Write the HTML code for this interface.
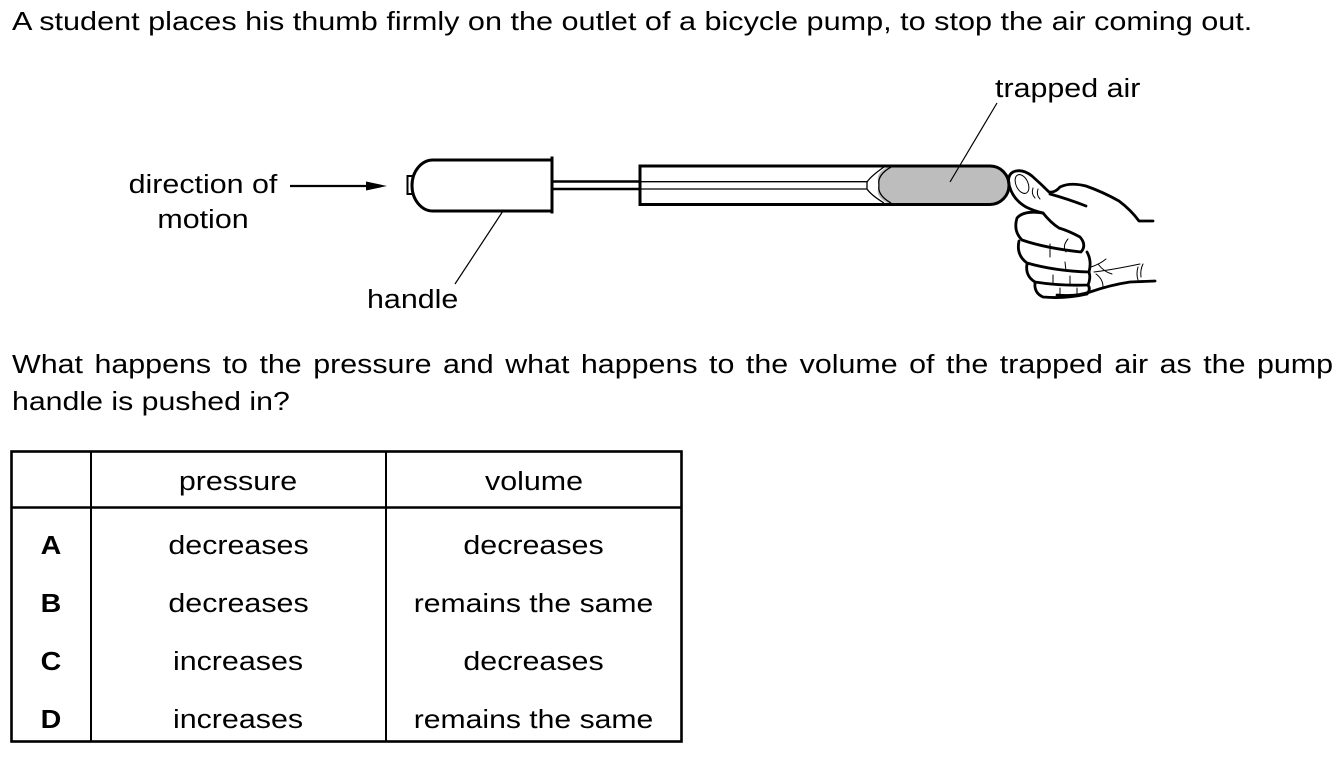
<!DOCTYPE html>
<html><head><meta charset="utf-8"><style>
html,body{margin:0;padding:0;background:#fff;}
svg{display:block;}
text{font-family:"Liberation Sans",Arial,sans-serif;font-size:26px;fill:#000;}
</style></head><body>
<svg width="1341" height="759" viewBox="0 0 1341 759" xmlns="http://www.w3.org/2000/svg">
<rect width="1341" height="759" fill="#fff"/>

<!-- Text -->
<text transform="translate(12,30) scale(1.178,1)">A student places his thumb firmly on the outlet of a bicycle pump, to stop the air coming out.</text>
<text transform="translate(995,97) scale(1.17,1)">trapped air</text>
<text transform="translate(203,193) scale(1.17,1)" text-anchor="middle">direction of</text>
<text transform="translate(203,228) scale(1.17,1)" text-anchor="middle">motion</text>
<text transform="translate(367,308) scale(1.17,1)">handle</text>
<text transform="translate(12,373) scale(1.17,1)" style="word-spacing:2.6px">What happens to the pressure and what happens to the volume of the trapped air as the pump</text>
<text transform="translate(12,410) scale(1.165,1)">handle is pushed in?</text>

<!-- direction arrow -->
<line x1="290" y1="186" x2="370" y2="186" stroke="#000" stroke-width="2.2"/>
<polygon points="366,181.5 387,186 366,190.5" fill="#000"/>

<!-- handle -->
<rect x="407.5" y="176" width="5" height="18" fill="none" stroke="#000" stroke-width="2"/>
<path d="M552,160 H433 A21 25.5 0 0 0 433,211 H552" fill="none" stroke="#000" stroke-width="3"/>
<line x1="552" y1="156.5" x2="552" y2="213.5" stroke="#000" stroke-width="3"/>
<line x1="552" y1="181.5" x2="640" y2="181.5" stroke="#000" stroke-width="2.6"/>
<line x1="552" y1="189" x2="640" y2="189" stroke="#000" stroke-width="2.6"/>
<line x1="503" y1="211" x2="455" y2="284" stroke="#000" stroke-width="1.2"/>

<!-- barrel -->
<path d="M887,167 Q873,175 880,185 Q873,195 887,203 L991,203 A18 18 0 0 0 991,167 Z" fill="#bdbdbd"/>
<path d="M640,166 H990 A19 19.25 0 0 1 990,204.5 H640 Z" fill="none" stroke="#000" stroke-width="3"/>
<line x1="640" y1="181.7" x2="867" y2="181.7" stroke="#000" stroke-width="1.3"/>
<line x1="640" y1="189" x2="867" y2="189" stroke="#000" stroke-width="1.3"/>
<path d="M884,167 Q871,176 867,182 L867,189 Q871,195 884,203" fill="none" stroke="#000" stroke-width="1.3"/>
<path d="M891,167 Q877,175 879,185 Q877,195 891,203" fill="none" stroke="#000" stroke-width="1.3"/>
<line x1="997" y1="103" x2="950" y2="182" stroke="#000" stroke-width="1.2"/>

<!-- hand -->
<g fill="none" stroke="#000" stroke-width="2.8" stroke-linejoin="round" stroke-linecap="round">
  <!-- thumb and back of hand -->
  <path d="M1010,188 Q1006,176 1013,172 Q1022,168 1032,176 Q1041,184 1049,192 Q1055,193 1060,187 Q1070,182 1086,186 Q1103,192 1119,201 Q1131,210 1139,221 L1153,221"/>
  <path d="M1010,188 Q1014,200 1026,207 Q1034,211 1043,213"/>
  <path d="M1050,194 Q1068,199 1086,206"/>
  <!-- index finger -->
  <path d="M1043,213 Q1024,210 1017,218 Q1013,231 1022,240 Q1045,248 1081,252 Q1087,245 1080,237 Q1069,231 1059,228 Q1051,223 1043,213"/>
  <!-- middle -->
  <path d="M1019,241 Q1016,255 1027,263 Q1055,271 1089,272 Q1092,261 1087,252"/>
  <!-- ring -->
  <path d="M1027,264 Q1025,276 1035,282 Q1060,286 1088,285 Q1091,278 1089,272"/>
  <!-- little -->
  <path d="M1035,283 Q1034,293 1043,297 Q1065,299 1087,294 Q1091,289 1088,285"/>
  <path d="M1057,295 Q1075,297 1090,292 Q1110,285 1130,282 L1155,281"/>
</g>
<g fill="none" stroke="#000" stroke-width="1" stroke-linecap="round">
  <ellipse cx="1022" cy="184" rx="6" ry="10" transform="rotate(-25 1022 184)"/>
  <path d="M1033,188 Q1031,194 1035,198"/>
  <path d="M1038,189 Q1036,195 1040,199"/>
  <path d="M1068,239 Q1062,246 1066,252"/>
  <path d="M1050,244 L1050,257"/>
  <path d="M1065,262 L1066,271"/>
  <path d="M1053,275 L1053,283"/>
  <path d="M1070,276 L1070,284"/>
  <path d="M1060,288 L1060,296"/>
  <path d="M1077,288 L1077,295"/>
  <path d="M1091,267 Q1100,264 1106,259"/>
  <path d="M1094,272 Q1110,270 1130,266 L1140,264"/>
  <path d="M1096,274 Q1103,279 1103,287"/>
  <path d="M1098,264 Q1104,272 1112,274"/>
  <path d="M1138,267 Q1136,274 1138,280"/>
  <path d="M1143,264 Q1140,270 1141,277"/>
</g>

<!-- table -->
<g stroke="#000" fill="none">
  <rect x="11.5" y="451.5" width="670" height="290" stroke-width="2.6"/>
  <line x1="11" y1="507.5" x2="682" y2="507.5" stroke-width="2.6"/>
  <line x1="91" y1="451" x2="91" y2="742" stroke-width="2"/>
  <line x1="386" y1="451" x2="386" y2="742" stroke-width="2"/>
</g>
<text transform="translate(238,490) scale(1.17,1)" text-anchor="middle">pressure</text>
<text transform="translate(534,490) scale(1.17,1)" text-anchor="middle">volume</text>

<text transform="translate(51,554) scale(1.1,1)" text-anchor="middle" font-weight="bold">A</text>
<text transform="translate(238.5,554) scale(1.17,1)" text-anchor="middle">decreases</text>
<text transform="translate(533.5,554) scale(1.17,1)" text-anchor="middle">decreases</text>

<text transform="translate(51,612) scale(1.1,1)" text-anchor="middle" font-weight="bold">B</text>
<text transform="translate(238.5,612) scale(1.17,1)" text-anchor="middle">decreases</text>
<text transform="translate(533.5,612) scale(1.16,1)" text-anchor="middle">remains the same</text>

<text transform="translate(51,670) scale(1.1,1)" text-anchor="middle" font-weight="bold">C</text>
<text transform="translate(238,670) scale(1.17,1)" text-anchor="middle">increases</text>
<text transform="translate(533.5,670) scale(1.17,1)" text-anchor="middle">decreases</text>

<text transform="translate(51,728) scale(1.1,1)" text-anchor="middle" font-weight="bold">D</text>
<text transform="translate(238,728) scale(1.17,1)" text-anchor="middle">increases</text>
<text transform="translate(533.5,728) scale(1.16,1)" text-anchor="middle">remains the same</text>
</svg>
</body></html>
